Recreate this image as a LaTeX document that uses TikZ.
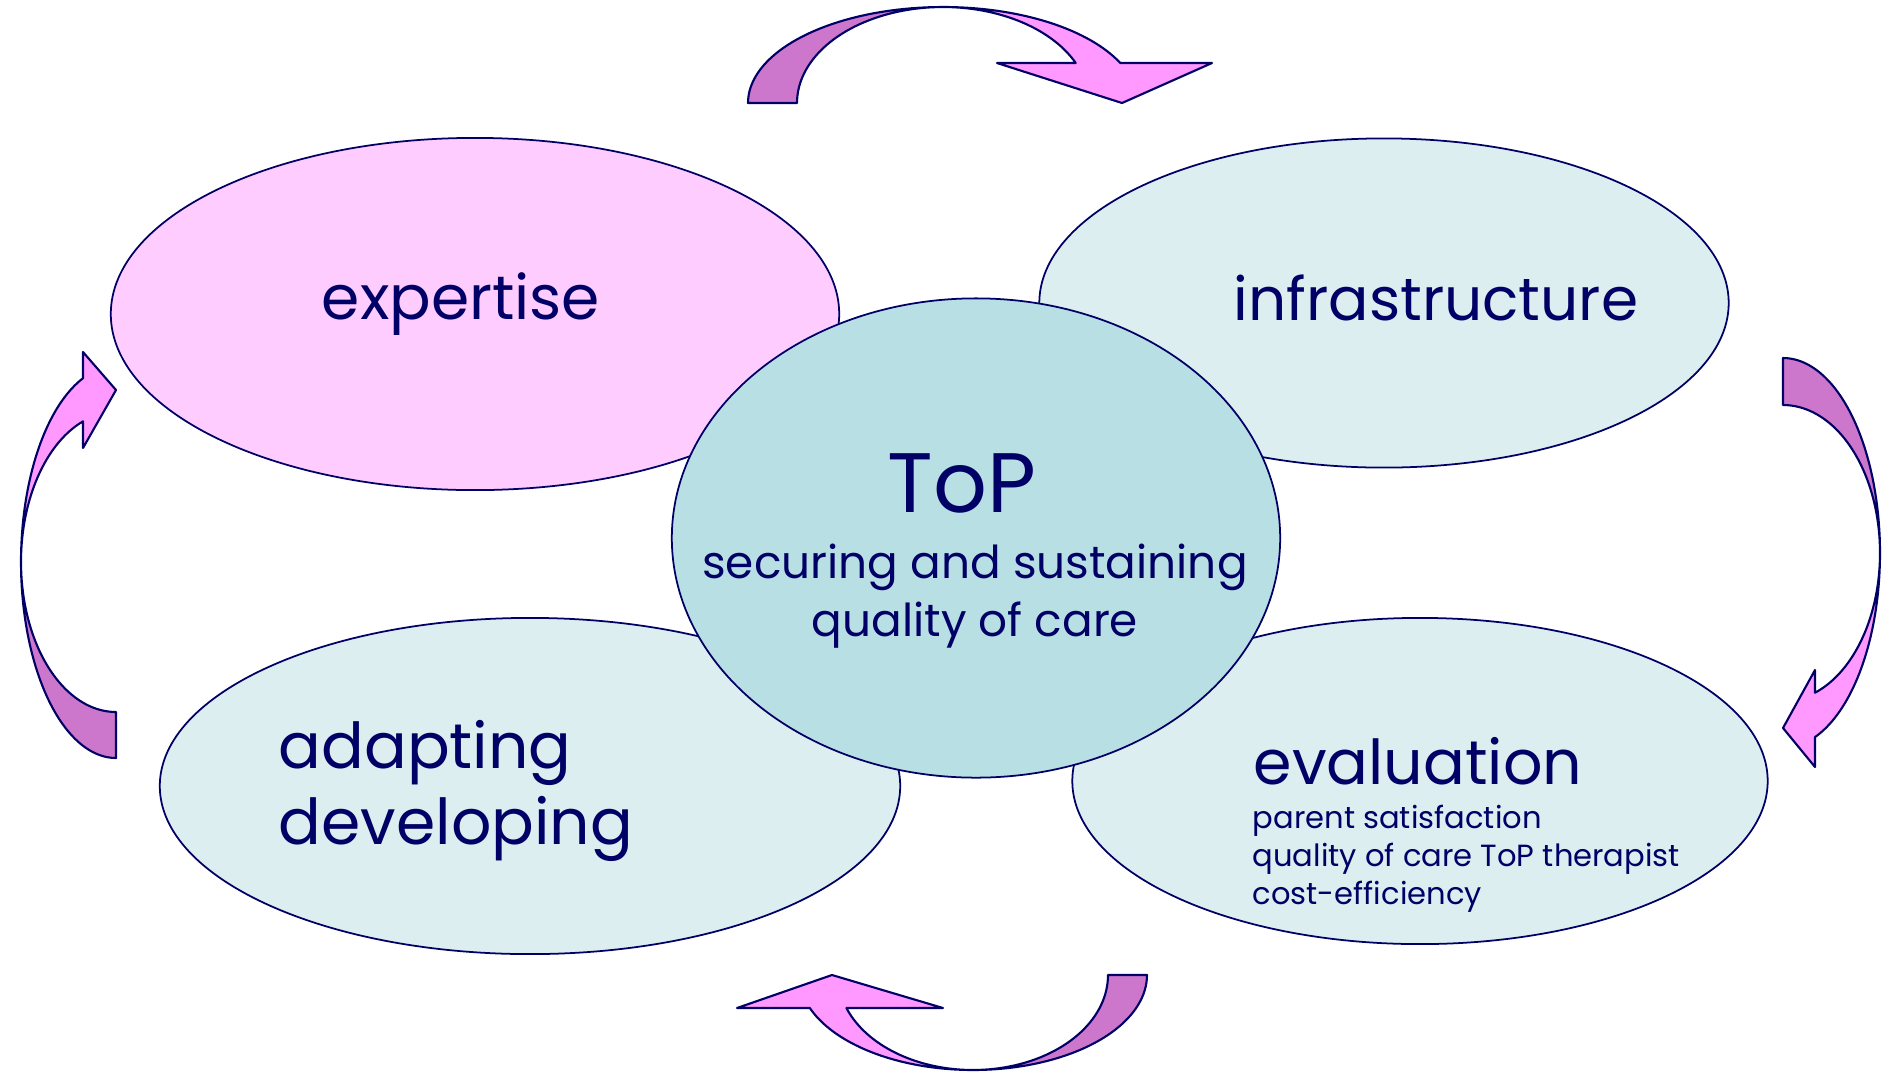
\documentclass[tikz,border=0pt]{standalone}
\usepackage{fontspec}
\setmainfont{Poppins}
\usetikzlibrary{shapes.geometric}
\definecolor{navy}{HTML}{000066}
\definecolor{pinkfill}{HTML}{FFCCFF}
\definecolor{bluefill}{HTML}{DDEEF0}
\definecolor{topfill}{HTML}{B8DFE3}
\definecolor{arrowdark}{HTML}{CC77CC}
\definecolor{arrowlight}{HTML}{FF99FF}
\tikzset{
  blob/.style={ellipse, draw=navy, line width=.5pt, inner sep=0pt},
  darkpart/.style={fill=arrowdark, draw=navy, line width=.6pt, line join=round},
  lightpart/.style={fill=arrowlight, draw=navy, line width=.6pt, line join=round},
  txt/.style={text=navy, inner sep=0pt}
}
\newcommand*{\TwistArrow}[9]{% #1 = rotation, #2 = centre, #3/#4 = outer/inner long radius,
  % #5 = short radius, #6 = offset of head base, #7/#8 = head base from/to, #9 = tip
  \begin{scope}[shift={#2}, rotate=#1]
    \pgfmathsetmacro{\headangle}{asin(#6/#5)}
    \filldraw[darkpart] plot[domain=180:90, samples=40] ({#3*cos(\x)}, {#5*sin(\x)})
      -- plot[domain=90:180, samples=40] ({#4*cos(\x)}, {#5*sin(\x)}) -- cycle;
    \filldraw[lightpart] plot[domain=90:\headangle, samples=40] ({#3*cos(\x)}, {#5*sin(\x)})
      -- (#8, #6) -- (#9, 0) -- (#7, #6)
      -- plot[domain=\headangle:90, samples=40] ({#4*cos(\x)}, {#5*sin(\x)}) -- cycle;
  \end{scope}%
}

\begin{document}
\begin{tikzpicture}[x=0.01cm, y=0.01cm]
    \useasboundingbox (0,0) rectangle (1884,-1075);

    % the four outer ellipses
    \node[blob, fill=pinkfill, minimum width=7.28cm, minimum height=3.52cm] (expertise) at (475,-314) {};
    \node[blob, fill=bluefill, minimum width=6.89cm, minimum height=3.29cm] (infra) at (1384,-303) {};
    \node[blob, fill=bluefill, minimum width=7.40cm, minimum height=3.36cm] (adapt) at (530,-786) {};
    \node[blob, fill=bluefill, minimum width=6.95cm, minimum height=3.26cm] (evaln) at (1420,-781) {};
    % centre
    \node[blob, fill=topfill, minimum width=6.08cm, minimum height=4.79cm] (top) at (976,-538) {};

    % texts
    \node[txt, font=\fontsize{17.5}{21}\selectfont] (expertisetext) at (461,-304) {expertise};
    \node[txt, font=\fontsize{17}{21}\selectfont] (infratext) at (1436,-298) {infrastructure};
    \node[txt, font=\fontsize{24}{28}\selectfont] (toptext) at (962,-483) {ToP};
    \node[txt, align=center, font=\fontsize{12.9}{16.5}\selectfont] (qualitytext) at (975,-596)
      {securing and sustaining\\quality of care};
    \node[txt, anchor=west, align=left, font=\fontsize{18}{21.6}\selectfont] (adapttext) at (278,-791)
      {adapting\\developing};
    \node[txt, anchor=west, font=\fontsize{17.6}{21}\selectfont] (evalntext) at (1253,-761) {evaluation};
    \node[txt, anchor=north west, align=left, font=\fontsize{8.7}{10.9}\selectfont] (evalnlist) at (1252,-804)
      {parent satisfaction\\quality of care ToP therapist\\cost-efficiency};

    % twisted arrows
    \TwistArrow{0}{(943,-103)}{195}{146}{96}{40}{54}{269}{179}
    \TwistArrow{-90}{(1783,-553)}{195}{148}{97}{32}{117}{214}{175}
    \TwistArrow{180}{(973,-975)}{174}{135}{95}{33}{30}{236}{141}
    \TwistArrow{90}{(116,-562)}{196}{150}{95}{33}{114}{210}{172}
\end{tikzpicture}
\end{document}
